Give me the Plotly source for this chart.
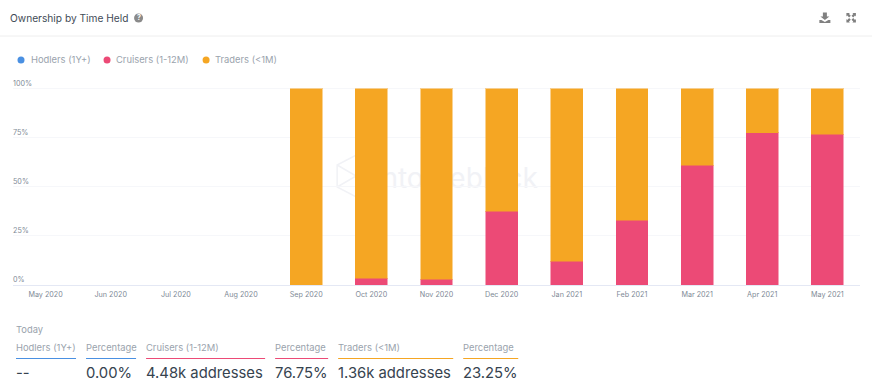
import plotly.graph_objects as go

months = ["May 2020", "Jun 2020", "Jul 2020", "Aug 2020", "Sep 2020", "Oct 2020", "Nov 2020",
          "Dec 2020", "Jan 2021", "Feb 2021", "Mar 2021", "Apr 2021", "May 2021"]
hodlers = [0, 0, 0, 0, 0, 0, 0, 0, 0, 0, 0, 0, 0]
cruisers = [0, 0, 0, 0, 0, 3.5, 3, 37.5, 12, 33, 61, 77.5, 76.75]
traders = [0, 0, 0, 0, 100, 96.5, 97, 62.5, 88, 67, 39, 22.5, 23.25]
y_ticks = [0, 25, 50, 75, 100]
y_labels = ["0%", "25%", "50%", "75%", "100%"]

BLUE, PINK, ORANGE = "#4A90E2", "#EC4A76", "#F5A623"
W, H = 872, 390
L, R, T, B = 13, 12.4, 77, 105
FONT = "Inter"
GREY = "#9AA3AD"
DARK = "#36434F"


def px(x):
    return (x - L) / (W - L - R)


def py(y):
    return 1 - (y - T) / (H - T - B)


fig = go.Figure()
for name, vals, col, edge in [("Hodlers (1Y+)", hodlers, BLUE, "rgba(74,144,226,0.5)"),
                              ("Cruisers (1-12M)", cruisers, PINK, "rgba(236,74,118,0.5)"),
                              ("Traders (<1M)", traders, ORANGE, "rgba(245,166,35,0.5)")]:
    fig.add_trace(go.Bar(x=months, y=vals, name=name, width=0.49,
                         marker=dict(color=col, line=dict(color=edge, width=1))))

ann, shp = [], []


def text(x, y, s, size, color, anchor="left"):
    ann.append(dict(xref="paper", yref="paper", x=px(x), y=py(y), text=s, showarrow=False,
                    xanchor=anchor, yanchor="middle", borderpad=0, borderwidth=0, align="left",
                    font=dict(family=FONT, size=size, color=color)))


def line(x0, x1, y, color):
    shp.append(dict(type="line", xref="paper", yref="paper", x0=px(x0), x1=px(x1), y0=py(y), y1=py(y),
                    line=dict(color=color, width=1)))


def circle(cx, cy, r, color):
    shp.append(dict(type="circle", xref="paper", yref="paper", x0=px(cx - r), x1=px(cx + r),
                    y0=py(cy + r), y1=py(cy - r), fillcolor=color, line=dict(width=0)))


def path(points, color):
    d = "M " + " L ".join(f"{px(a):.5f},{py(b):.5f}" for a, b in points) + " Z"
    shp.append(dict(type="path", xref="paper", yref="paper", path=d, fillcolor=color, line=dict(width=0)))


# header
text(10, 18, "Ownership by Time Held", 10.2, "#3F4B57")
line(0, W, 36, "#EEEEEE")
circle(138.5, 18, 4.5, "#8A8A8A")
text(138.5, 18, "<b>?</b>", 7, "#FFFFFF", "center")
# download icon
path([(822.5, 12.5), (826.5, 12.5), (826.5, 16.5), (829, 16.5), (824.5, 20), (820, 16.5), (822.5, 16.5)], "#808080")
path([(819, 20), (821, 20), (824.5, 22), (828, 20), (830, 20), (830, 23), (819, 23)], "#808080")
# expand icon
for X, cy, sx, sy in [(846, 13, 1, 1), (855.5, 13, -1, 1), (846, 22.5, 1, -1), (855.5, 22.5, -1, -1)]:
    path([(X, cy), (X + 3.5 * sx, cy), (X + 2.6 * sx, cy + 0.9 * sy), (X + 4.4 * sx, cy + 2.7 * sy),
          (X + 2.7 * sx, cy + 4.4 * sy), (X + 0.9 * sx, cy + 2.6 * sy), (X, cy + 3.5 * sy)], "#808080")

# legend
for cx, tx, s, col in [(21, 31, "Hodlers (1Y+)", BLUE), (107, 116, "Cruisers (1-12M)", PINK),
                       (206, 215, "Traders (<1M)", ORANGE)]:
    circle(cx, 60, 3.5, col)
    text(tx, 59.5, s, 9.4, GREY)

# footer stats
text(16, 329, "Today", 9.4, GREY)
for x0, x1, head, val, col in [(16, 76, "Hodlers (1Y+)", "--", BLUE),
                               (86, 136, "Percentage", "0.00%", BLUE),
                               (146, 265, "Cruisers (1-12M)", "4.48k addresses", PINK),
                               (275, 328, "Percentage", "76.75%", PINK),
                               (338, 453, "Traders (<1M)", "1.36k addresses", ORANGE),
                               (463, 518, "Percentage", "23.25%", ORANGE)]:
    text(x0, 347, head, 9.4, GREY)
    line(x0, x1, 358.5, col)
    text(x0, 373, val, 14.8, DARK)

# watermark beneath the bars
WM = "#F1F2F6"
shp.append(dict(type="rect", xref="paper", yref="paper", x0=px(366), x1=px(546), y0=py(192), y1=py(162),
                layer="below", line=dict(width=0), fillcolor="rgba(0,0,0,0)",
                label=dict(text="intotheblock", font=dict(family=FONT, size=28, color=WM),
                           textposition="middle center")))
for pts in ([(337, 165), (356, 155), (375, 165), (375, 187), (356, 197), (337, 187)],
            [(337, 165), (356, 176), (337, 187)]):
    shp.append(dict(type="path", xref="paper", yref="paper", layer="below", fillcolor="rgba(0,0,0,0)",
                    line=dict(color=WM, width=1.5),
                    path="M " + " L ".join(f"{px(a):.5f},{py(b):.5f}" for a, b in pts) + (" Z" if len(pts) > 3 else "")))

fig.update_layout(
    width=W, height=H, barmode="stack", showlegend=False,
    margin=dict(l=L, r=R, t=T, b=B, pad=0), paper_bgcolor="white", plot_bgcolor="white",
    font=dict(family=FONT), annotations=ann, shapes=shp,
    xaxis=dict(type="category", categoryorder="array", categoryarray=months, tickfont=dict(size=7.2, color="#808A96"),
               showgrid=False, showline=True, linecolor="#E4E8F4", linewidth=1, ticks="", ticklen=0,
               ticklabelstandoff=2, range=[-0.5, 12.5], fixedrange=True),
    yaxis=dict(range=[0, 106], tickvals=y_ticks, ticktext=y_labels, ticklabelposition="inside top",
               ticklabelstandoff=-3, tickfont=dict(size=7.2, color="#808A96"), gridcolor="#F6F7FA", gridwidth=1,
               zeroline=False, showline=False, fixedrange=True),
)
fig.write_html("out.html", config={"displayModeBar": False},
               post_script="document.body.style.margin='0';")
